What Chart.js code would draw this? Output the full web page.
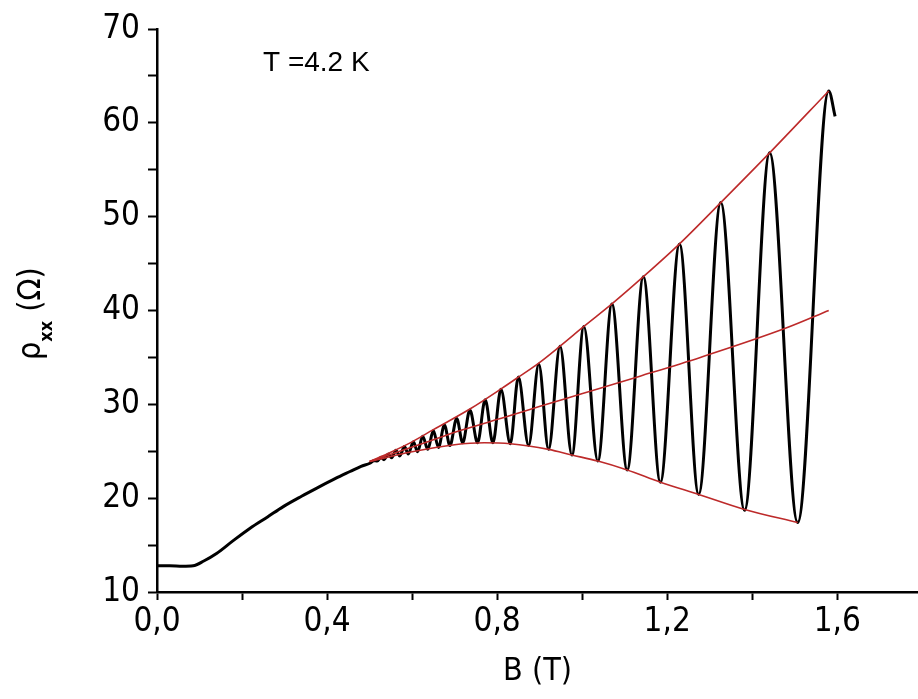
<!DOCTYPE html>
<html>
<head>
<style>
  html, body { margin: 0; padding: 0; background: #fff; }
  #wrap { width: 918px; height: 699px; position: relative; }
</style>
<script src="https://cdn.jsdelivr.net/npm/chart.js"></script>
</head>
<body>
<div id="wrap"><canvas id="sdh" width="918" height="699"></canvas></div>
<script>
// measured trace rho_xx(B), B in tesla, rho in ohm
var blackB = [0.000, 0.030, 0.060, 0.085, 0.110, 0.140, 0.180, 0.219, 0.260, 0.297,
  0.340, 0.376, 0.420, 0.454, 0.480,
  0.502, 0.510, 0.518, 0.527, 0.534, 0.544, 0.552, 0.562, 0.571, 0.582,
  0.591, 0.603, 0.613, 0.625, 0.637, 0.650, 0.662, 0.676, 0.689, 0.705,
  0.719, 0.736, 0.754, 0.772, 0.790, 0.809, 0.831, 0.850, 0.874, 0.898,
  0.921, 0.948, 0.976, 1.004, 1.037, 1.070, 1.106, 1.144, 1.184, 1.229,
  1.274, 1.326, 1.382, 1.441, 1.507, 1.580, 1.595];
var blackRho = [12.8, 12.8, 12.75, 12.8, 13.3, 14.1, 15.5, 16.8, 18.0, 19.1,
  20.2, 21.07, 22.1, 22.84, 23.4,
  23.75, 24.0, 23.95, 24.35, 24.1, 24.7, 24.3, 25.1, 24.5, 25.5,
  24.7, 26.0, 24.95, 26.6, 25.2, 27.2, 25.4, 27.8, 25.6, 28.5,
  25.9, 29.4, 25.9, 30.5, 25.9, 31.6, 25.8, 32.9, 25.6, 34.3,
  25.2, 36.2, 24.6, 38.3, 23.95, 40.7, 23.0, 43.6, 21.7, 47.1,
  20.4, 51.5, 18.7, 56.8, 17.4, 63.4, 60.7];

// red guide lines: upper envelope, lower envelope, middle line
var upperB = [0.50, 0.55, 0.60, 0.65, 0.736, 0.811, 0.85, 0.898, 0.948, 1.004, 1.07, 1.144, 1.229, 1.326, 1.441, 1.58];
var upperRho = [23.9, 24.9, 26.0, 27.3, 29.5, 31.7, 32.9, 34.4, 36.2, 38.3, 40.7, 43.6, 47.1, 51.5, 56.8, 63.4];
var lowerB = [0.50, 0.60, 0.70, 0.77, 0.831, 0.921, 0.976, 1.037, 1.106, 1.184, 1.274, 1.382, 1.507];
var lowerRho = [23.9, 24.95, 25.7, 25.9, 25.8, 25.2, 24.6, 23.95, 23.0, 21.7, 20.4, 18.8, 17.4];
var middleB = [0.50, 0.642, 0.713, 0.831, 0.901, 0.997, 1.136, 1.278, 1.478, 1.58];
var middleRho = [23.9, 26.1, 27.2, 28.8, 29.8, 31.1, 33.0, 35.0, 38.1, 40.0];

// axis ticks
var xTickValues = [0, 0.2, 0.4, 0.6, 0.8, 1.0, 1.2, 1.4, 1.6];
var xTickLabels = ['0,0', '', '0,4', '', '0,8', '', '1,2', '', '1,6'];
var yTickValues = [10, 15, 20, 25, 30, 35, 40, 45, 50, 55, 60, 65, 70];
var yTickLabels = ['10', '', '20', '', '30', '', '40', '', '50', '', '60', '', '70'];

function pts(xs, ys) {
  return xs.map(function (x, i) { return { x: x, y: ys[i] }; });
}

var RED = '#bd2a2a';
var tickFont = { family: '"DejaVu Sans Condensed", "DejaVu Sans", sans-serif', size: 33 };

// temperature note and rho_xx axis title
var textPlugin = {
  id: 'texts',
  afterDraw: function (chart) {
    var ctx = chart.ctx;
    ctx.save();
    ctx.fillStyle = '#000';
    ctx.textBaseline = 'alphabetic';
    ctx.font = '28px "Liberation Sans", Arial, sans-serif';
    ctx.fillText('T =4.2 K', 263, 71);

    ctx.translate(40, 360);
    ctx.rotate(-Math.PI / 2);
    var big = '32px "DejaVu Sans Condensed", "DejaVu Sans", sans-serif';
    var sub = 'bold 18px "DejaVu Sans Condensed", "DejaVu Sans", sans-serif';
    var x = 0;
    ctx.font = big;
    ctx.fillText('\u03C1', x, 0);
    x += ctx.measureText('\u03C1').width;
    ctx.font = sub;
    ctx.fillText('xx', x, 12);
    x += ctx.measureText('xx').width;
    ctx.font = big;
    ctx.fillText(' (\u03A9)', x, 0);
    ctx.restore();
  }
};

new Chart(document.getElementById('sdh'), {
  type: 'line',
  data: {
    datasets: [
      { data: pts(blackB, blackRho), borderColor: '#000', borderWidth: 3, order: 2 },
      { data: pts(upperB, upperRho), borderColor: RED, borderWidth: 1.6, order: 1 },
      { data: pts(lowerB, lowerRho), borderColor: RED, borderWidth: 1.6, order: 1 },
      { data: pts(middleB, middleRho), borderColor: RED, borderWidth: 1.6, order: 1 }
    ]
  },
  options: {
    responsive: false,
    animation: false,
    events: [],
    layout: { padding: { top: 29, left: 0, right: 0, bottom: 0 } },
    elements: {
      point: { radius: 0 },
      line: { cubicInterpolationMode: 'monotone', fill: false }
    },
    plugins: { legend: { display: false }, tooltip: { enabled: false } },
    scales: {
      x: {
        type: 'linear',
        min: 0,
        max: 1.79,
        afterFit: function (s) { s.height = 107; },
        afterBuildTicks: function (s) {
          s.ticks = xTickValues.map(function (v) { return { value: v }; });
        },
        border: { display: true, color: '#000', width: 2.5 },
        grid: { drawOnChartArea: false, drawTicks: true, tickLength: 8, tickWidth: 2, tickColor: '#000' },
        ticks: {
          color: '#000',
          font: tickFont,
          padding: 3,
          maxRotation: 0,
          autoSkip: false,
          callback: function (v, i) { return xTickLabels[i]; }
        },
        title: {
          display: true,
          text: 'B (T)',
          color: '#000',
          font: { family: '"DejaVu Sans Condensed", "DejaVu Sans", sans-serif', size: 32 },
          padding: { top: 0, bottom: 8 }
        }
      },
      y: {
        min: 10,
        max: 70,
        afterFit: function (s) { s.width = 157; },
        afterBuildTicks: function (s) {
          s.ticks = yTickValues.map(function (v) { return { value: v }; });
        },
        border: { display: true, color: '#000', width: 2.5 },
        grid: { drawOnChartArea: false, drawTicks: true, tickLength: 9, tickWidth: 2, tickColor: '#000' },
        ticks: {
          color: '#000',
          font: tickFont,
          padding: 8,
          autoSkip: false,
          callback: function (v, i) { return yTickLabels[i]; }
        }
      }
    }
  },
  plugins: [textPlugin]
});
</script>
</body>
</html>
